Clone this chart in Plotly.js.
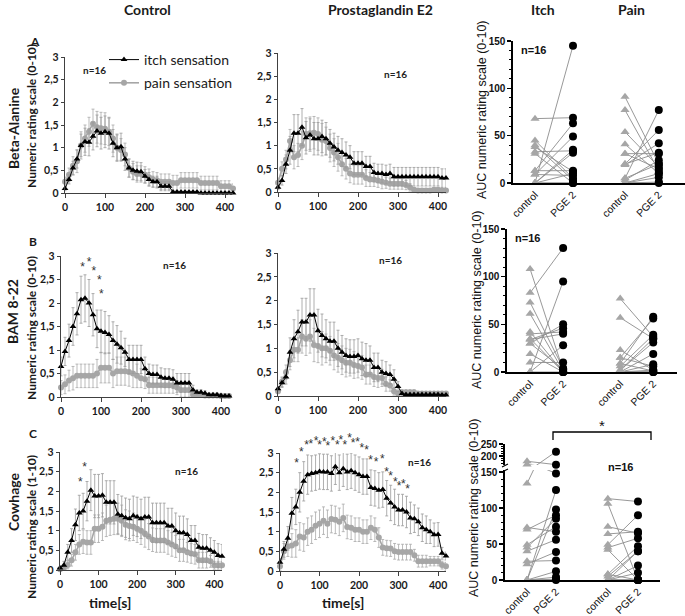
<!DOCTYPE html>
<html><head><meta charset="utf-8">
<script src="https://cdn.plot.ly/plotly-3.0.1.min.js"></script>
<style>body{margin:0;background:#fff}#chart{width:685px;height:616px}</style>
</head><body><div id="chart"></div>
<script>
// ---------------- DATA ----------------
const time = [0,10,20,30,40,50,60,70,80,90,100,110,120,130,140,150,160,170,180,190,200,210,220,230,240,250,260,270,280,290,300,310,320,330,340,350,360,370,380,390,400,410,420];
const timeTicks = [0,100,200,300,400];
const nrsTickVals = [0,0.5,1,1.5,2,2.5,3];
const nrsTickText = ['0','0,5','1','1,5','2','2,5','3'];

// Beta-Alanine, Control
const baCtrlItch = [0.1,0.3,0.55,0.75,1.05,1.13,1.12,1.25,1.37,1.32, 1.35,1.32,1.1,1.0,1.02,0.75,0.55,0.5,0.48,0.47, 0.37,0.3,0.25,0.25,0.15,0.15,0.15,0.02,0.02,0.02, 0.02,0.02,0.02,0.02,0,0,0,0,0,0, 0,0,0];
const baCtrlItchErr = [0.05,0.1,0.15,0.2,0.25,0.3,0.3,0.3,0.35,0.35, 0.35,0.35,0.3,0.3,0.3,0.25,0.2,0.2,0.2,0.2, 0.15,0.15,0.12,0.12,0.1,0.1,0.1,0,0,0, 0,0,0,0,0,0,0,0,0,0, 0,0,0];
const baCtrlPain = [0.25,0.4,0.6,0.7,1.05,1.2,1.35,1.53,1.45,1.43, 1.42,1.35,1.2,1.0,0.95,0.85,0.55,0.47,0.42,0.42, 0.4,0.35,0.3,0.28,0.25,0.25,0.25,0.22,0.22,0.28, 0.28,0.28,0.28,0.28,0.22,0.22,0.22,0.22,0.22,0.15, 0.15,0.15,0.1];
const baCtrlPainErr = [0.1,0.15,0.2,0.25,0.3,0.3,0.32,0.32,0.35,0.35, 0.35,0.3,0.3,0.28,0.25,0.25,0.2,0.18,0.18,0.18, 0.18,0.18,0.17,0.17,0.17,0.17,0.17,0.17,0.17,0.17, 0.17,0.17,0.17,0.17,0.15,0.15,0.15,0.15,0.15,0.12, 0.12,0.12,0.1];
// Beta-Alanine, PGE2
const baPgeItch = [0.1,0.25,0.6,0.9,1.27,1.27,1.4,1.17,1.23,1.15, 1.15,1.2,1.15,1.05,0.97,0.9,0.85,0.8,0.75,0.62, 0.62,0.62,0.55,0.55,0.42,0.4,0.4,0.38,0.4,0.33, 0.33,0.33,0.33,0.33,0.33,0.33,0.33,0.33,0.33,0.33, 0.33,0.3,0.3];
const baPgeItchErr = [0.05,0.1,0.2,0.3,0.4,0.4,0.4,0.35,0.35,0.35, 0.35,0.35,0.35,0.3,0.3,0.3,0.3,0.28,0.25,0.25, 0.25,0.25,0.22,0.22,0.2,0.2,0.2,0.2,0.2,0.2, 0.2,0.2,0.2,0.2,0.2,0.2,0.2,0.2,0.2,0.2, 0.2,0.2,0.2];
const baPgePain = [0.2,0.5,0.7,1.1,0.75,0.8,1.0,1.25,1.27,1.28, 1.25,1.13,1.1,0.95,0.85,0.75,0.6,0.5,0.4,0.37, 0.37,0.37,0.3,0.27,0.27,0.25,0.22,0.2,0.18,0.18, 0.18,0.18,0.15,0.1,0.05,0.03,0.03,0.03,0.03,0.05, 0.05,0.03,0.03];
const baPgePainErr = [0.1,0.15,0.2,0.25,0.25,0.25,0.3,0.35,0.35,0.35, 0.35,0.35,0.3,0.3,0.3,0.3,0.25,0.22,0.2,0.2, 0.2,0.2,0.18,0.15,0.15,0.15,0.15,0.12,0.12,0.12, 0.12,0.12,0.1,0.08,0.05,0.03,0.03,0.03,0.03,0.05, 0.05,0.03,0.03];

// BAM 8-22, Control
const bamCtrlItch = [0.65,0.97,1.2,1.5,1.77,2.07,2.1,2.0,1.75,1.45, 1.4,1.37,1.33,1.2,1.12,1.05,0.95,0.8,0.8,0.8, 0.8,0.6,0.5,0.48,0.48,0.42,0.4,0.4,0.38,0.3, 0.3,0.3,0.3,0.15,0.1,0.1,0.08,0.05,0.05,0.05, 0.03,0.02,0.02];
const bamCtrlItchErr = [0.2,0.3,0.35,0.4,0.45,0.5,0.5,0.5,0.45,0.4, 0.45,0.45,0.4,0.4,0.4,0.35,0.3,0.3,0.3,0.3, 0.3,0.25,0.2,0.2,0.2,0.2,0.2,0.2,0.2,0.2, 0.2,0.2,0.2,0.1,0.05,0.05,0.05,0.03,0.03,0.03, 0.02,0.02,0.02];
const bamCtrlPain = [0.2,0.27,0.35,0.4,0.45,0.45,0.45,0.45,0.45,0.5, 0.62,0.62,0.62,0.5,0.55,0.55,0.55,0.53,0.5,0.45, 0.4,0.38,0.25,0.25,0.25,0.25,0.25,0.25,0.25,0.2, 0.15,0.15,0.15,0.05,0.05,0.05,0.03,0.03,0.03,0.03, 0.02,0.02,0.02];
const bamCtrlPainErr = [0.15,0.2,0.22,0.25,0.25,0.25,0.25,0.25,0.25,0.3, 0.32,0.32,0.32,0.3,0.3,0.3,0.3,0.3,0.3,0.25, 0.2,0.2,0.17,0.17,0.17,0.17,0.17,0.17,0.17,0.15, 0.15,0.15,0.15,0.05,0.05,0.05,0.03,0.03,0.03,0.03, 0.02,0.02,0.02];
// BAM 8-22, PGE2
const bamPgeItch = [0.15,0.28,0.4,0.92,1.2,1.35,1.55,1.55,1.7,1.7, 1.37,1.27,1.2,1.15,1.15,1.0,0.92,0.85,0.83,0.83, 0.85,0.78,0.75,0.75,0.6,0.6,0.5,0.47,0.45,0.35, 0.2,0.05,0.03,0.03,0.03,0.03,0.03,0.03,0.03,0.03, 0.03,0.02,0.02];
const bamPgeItchErr = [0.05,0.1,0.15,0.3,0.4,0.45,0.5,0.5,0.55,0.55, 0.45,0.45,0.4,0.4,0.4,0.38,0.35,0.35,0.35,0.35, 0.35,0.35,0.35,0.3,0.3,0.3,0.25,0.25,0.2,0.2, 0.1,0.05,0.03,0.03,0.03,0.03,0.03,0.03,0.03,0.03, 0.03,0.03,0.03];
const bamPgePain = [0.1,0.3,0.5,0.75,0.97,0.97,1.25,1.2,1.25,1.07, 1.05,1.0,1.0,0.95,0.85,0.8,0.75,0.7,0.7,0.65, 0.63,0.6,0.45,0.45,0.4,0.38,0.38,0.25,0.22,0.1, 0.05,0.08,0.08,0.08,0.08,0.05,0.05,0.05,0.05,0.05, 0.05,0.05,0.05];
const bamPgePainErr = [0.05,0.1,0.15,0.2,0.25,0.25,0.35,0.35,0.35,0.35, 0.35,0.35,0.3,0.3,0.3,0.3,0.3,0.3,0.28,0.28, 0.25,0.25,0.2,0.2,0.2,0.2,0.18,0.15,0.12,0.08, 0.05,0.05,0.05,0.05,0.05,0.03,0.03,0.03,0.03,0.03, 0.03,0.03,0.03];

// Cowhage, Control
const cowCtrlItch = [0.05,0.12,0.45,0.75,1.15,1.45,1.5,1.75,2.03,1.88, 1.88,1.9,1.72,1.72,1.72,1.42,1.38,1.33,1.3,1.38, 1.35,1.3,1.35,1.35,1.2,1.2,1.2,1.2,1.12,1.12, 1.0,0.95,0.95,0.9,0.75,0.75,0.58,0.55,0.55,0.5, 0.45,0.37,0.35];
const cowCtrlItchErr = [0.05,0.1,0.2,0.3,0.4,0.45,0.45,0.5,0.52,0.55, 0.55,0.55,0.55,0.55,0.55,0.5,0.5,0.5,0.5,0.5, 0.5,0.5,0.5,0.5,0.5,0.5,0.5,0.5,0.45,0.45, 0.45,0.42,0.42,0.4,0.38,0.38,0.35,0.35,0.35,0.32, 0.3,0.3,0.3];
const cowCtrlPain = [0.02,0.05,0.13,0.25,0.45,0.65,0.72,0.7,0.7,1.05, 1.05,1.1,1.25,1.28,1.3,1.3,1.25,1.15,1.12,1.1, 1.05,1.0,0.93,0.85,0.77,0.75,0.75,0.75,0.7,0.65, 0.6,0.5,0.5,0.45,0.42,0.4,0.25,0.25,0.25,0.22, 0.12,0.12,0.12];
const cowCtrlPainErr = [0.03,0.05,0.1,0.15,0.2,0.25,0.3,0.3,0.3,0.35, 0.35,0.35,0.4,0.4,0.4,0.4,0.4,0.38,0.38,0.35, 0.35,0.35,0.35,0.33,0.3,0.3,0.3,0.3,0.3,0.3, 0.28,0.28,0.28,0.25,0.25,0.25,0.2,0.2,0.2,0.15, 0.1,0.1,0.1];
// Cowhage, PGE2
const cowPgeItch = [0.22,0.55,0.83,1.47,1.63,2.0,2.28,2.45,2.48,2.5, 2.53,2.52,2.52,2.48,2.65,2.5,2.6,2.52,2.55,2.5, 2.45,2.4,2.4,2.12,2.1,2.05,2.07,1.85,1.73,1.63, 1.55,1.55,1.5,1.35,1.33,1.25,1.1,1.05,1.0,0.92, 0.93,0.45,0.38];
const cowPgeItchErr = [0.1,0.2,0.3,0.4,0.45,0.5,0.5,0.5,0.45,0.45, 0.45,0.45,0.45,0.45,0.45,0.45,0.45,0.45,0.45,0.45, 0.45,0.45,0.45,0.45,0.45,0.45,0.45,0.45,0.45,0.45, 0.4,0.4,0.4,0.4,0.35,0.35,0.35,0.35,0.3,0.3, 0.3,0.15,0.1];
const cowPgePain = [0.12,0.5,0.62,0.65,0.7,0.88,0.85,1.0,1.05,1.15, 1.2,1.28,1.2,1.32,1.3,1.25,1.35,1.12,1.1,1.05, 1.05,1.0,1.0,1.1,1.05,0.85,0.6,0.58,0.57,0.5, 0.48,0.48,0.48,0.48,0.4,0.25,0.25,0.25,0.25,0.25, 0.25,0.15,0.12];
const cowPgePainErr = [0.1,0.2,0.25,0.3,0.35,0.35,0.35,0.35,0.35,0.35, 0.35,0.35,0.35,0.35,0.35,0.35,0.35,0.3,0.3,0.3, 0.3,0.3,0.3,0.3,0.3,0.25,0.2,0.2,0.2,0.2, 0.2,0.2,0.2,0.2,0.15,0.15,0.15,0.15,0.12,0.12, 0.12,0.1,0.1];

// significance asterisks (time, rating)
const bamStarT = [54,70,82,96,101];
const bamStarY = [2.74,2.86,2.67,2.47,2.17];
const cowCtrlStarT = [53,64];
const cowCtrlStarY = [2.2,2.6];
const cowPgeStarT = [42,54,67,78,91,100,112,121,134,145,154,164,176,185,196,207,219,229,243,259,270,280,292,301,312,323];
const cowPgeStarY = [2.72,3.0,3.17,3.2,3.27,3.19,3.26,3.15,3.27,3.17,3.3,3.17,3.36,3.23,3.26,3.09,3.04,2.79,2.75,2.83,2.5,2.38,2.25,2.13,2.19,2.06];

// AUC per subject (n=16): control vs PGE 2
const groupLabels = ['control','PGE 2','control','PGE 2'];
const baAucItchCtrl = [0,68,45,38,33,31,13,9,0,13,9,0,0,0,0,40];
const baAucItchPge  = [145,69,5,12,34,0,63,49,35,13,8,32,10,0,0,3];
const baAucPainCtrl = [91,77,54,41,31,20,19,5,3,0,0,31,20,0,0,5];
const baAucPainPge  = [20,13,17,10,31,56,42,77,24,6,0,15,32,10,1,20];

const bamAucItchCtrl = [108,83,73,61,42,40,34,34,30,19,10,0,0,35,0,30];
const bamAucItchPge  = [2,130,4,1,0,42,46,40,50,0,10,95,28,0,0,3];
const bamAucPainCtrl = [77,57,23,15,9,6,2,0,15,0,2,0,0,9,0,0];
const bamAucPainPge  = [37,35,2,56,58,39,31,19,6,0,35,8,0,1,2,0];

const cowAucItchCtrl = [178,165,134,73,70,49,45,40,26,22,0,0,0,0,0,0];
const cowAucItchPge  = [164,148,218,67,90,74,85,56,27,39,125,98,12,4,1,0];
const cowAucPainCtrl = [113,106,74,64,49,45,42,8,5,0,0,0,0,8,0,0];
const cowAucPainPge  = [109,0,65,67,90,58,0,47,40,20,10,0,0,0,40,0];

// ---------------- STYLE / LAYOUT ----------------
const W = 685, H = 616;
const px = v => v / W;
const py = v => 1 - v / H;
const FX = 'Lato, "Open Sans", sans-serif';
const FA = '"Liberation Sans", Arial, sans-serif';
const GRAY = '#a6a6a6';

function tsTraces(xa, ya, itch, itchErr, pain, painErr, legend) {
  return [
    {type:'scatter', x:time, y:pain, xaxis:xa, yaxis:ya, mode:'lines+markers', name:'pain sensation',
     legendgroup:'pain', legendrank:2, showlegend:legend, cliponaxis:false,
     line:{color:GRAY, width:1.6}, marker:{symbol:'circle', size:6, color:GRAY},
     error_y:{type:'data', array:painErr, color:'#aaaaaa', thickness:0.8, width:1.5}},
    {type:'scatter', x:time, y:itch, xaxis:xa, yaxis:ya, mode:'lines+markers', name:'itch sensation',
     legendgroup:'itch', legendrank:1, showlegend:legend, cliponaxis:false,
     line:{color:'#000', width:1}, marker:{symbol:'triangle-up', size:6, color:'#000'},
     error_y:{type:'data', array:itchErr, color:'#9a9a9a', thickness:0.8, width:1.5}}
  ];
}
function starTrace(xa, ya, t, y) {
  return {type:'scatter', x:t, y:y, xaxis:xa, yaxis:ya, mode:'text', text:t.map(() => '*'),
    textposition:'middle center', cliponaxis:false, showlegend:false, hoverinfo:'skip',
    textfont:{family:FA, size:12, color:'#333'}};
}

function pairTraces(xa, ya, pos, cI, pI, cP, pP) {
  const lx = [], ly = [];
  cI.forEach((v,i) => { lx.push(pos[0], pos[1], null); ly.push(v, pI[i], null); });
  cP.forEach((v,i) => { lx.push(pos[2], pos[3], null); ly.push(v, pP[i], null); });
  const cx = cI.map(() => pos[0]).concat(cP.map(() => pos[2]));
  const px2 = pI.map(() => pos[1]).concat(pP.map(() => pos[3]));
  return [
    {type:'scatter', x:lx, y:ly, xaxis:xa, yaxis:ya, mode:'lines', showlegend:false, hoverinfo:'skip',
     line:{color:'#8c8c8c', width:0.9}},
    {type:'scatter', x:cx, y:cI.concat(cP), xaxis:xa, yaxis:ya, mode:'markers', showlegend:false, cliponaxis:false,
     marker:{symbol:'triangle-up', size:8, color:GRAY}},
    {type:'scatter', x:px2, y:pI.concat(pP), xaxis:xa, yaxis:ya, mode:'markers', showlegend:false, cliponaxis:false,
     marker:{symbol:'circle', size:8, color:'#000'}}
  ];
}

// category positions for the AUC panels (per row)
const aucPos1 = [1, 2, 3.37, 4.26];
const aucPos2 = [1, 2, 3.73, 4.73];
const aucPos3 = [1, 2, 3.79, 4.83];

const traces = [].concat(
  tsTraces('x','y', baCtrlItch, baCtrlItchErr, baCtrlPain, baCtrlPainErr, true),
  tsTraces('x2','y2', baPgeItch, baPgeItchErr, baPgePain, baPgePainErr, false),
  pairTraces('x3','y3', aucPos1, baAucItchCtrl, baAucItchPge, baAucPainCtrl, baAucPainPge),
  tsTraces('x4','y4', bamCtrlItch, bamCtrlItchErr, bamCtrlPain, bamCtrlPainErr, false),
  tsTraces('x5','y5', bamPgeItch, bamPgeItchErr, bamPgePain, bamPgePainErr, false),
  pairTraces('x6','y6', aucPos2, bamAucItchCtrl, bamAucItchPge, bamAucPainCtrl, bamAucPainPge),
  tsTraces('x7','y7', cowCtrlItch, cowCtrlItchErr, cowCtrlPain, cowCtrlPainErr, false),
  tsTraces('x8','y8', cowPgeItch, cowPgeItchErr, cowPgePain, cowPgePainErr, false),
  pairTraces('x9','y9', aucPos3, cowAucItchCtrl, cowAucItchPge, cowAucPainCtrl, cowAucPainPge),
  pairTraces('x9','y10', aucPos3, cowAucItchCtrl, cowAucItchPge, [], []),
  [starTrace('x4','y4', bamStarT, bamStarY),
   starTrace('x7','y7', cowCtrlStarT, cowCtrlStarY),
   starTrace('x8','y11', cowPgeStarT, cowPgeStarY)]
);

const tickFontX = {family:FX, size:10.5, color:'#1a1a1a', weight:'bold'};
function tsX(a, b, anchor) {
  return {domain:[px(a), px(b)], range:[0,420], anchor:anchor, tickvals:timeTicks, ticktext:timeTicks.map(String),
    ticks:'outside', ticklen:4, tickcolor:'#404040', showline:true, linecolor:'#404040', linewidth:1.2,
    showgrid:false, zeroline:false, tickfont:tickFontX, fixedrange:true};
}
function tsY(top, bot, anchor) {
  return {domain:[py(bot), py(top)], range:[0,3], anchor:anchor, tickvals:nrsTickVals, ticktext:nrsTickText,
    ticks:'outside', ticklen:3, tickcolor:'#404040', showline:true, linecolor:'#404040', linewidth:1.2,
    showgrid:false, zeroline:false, tickfont:tickFontX, fixedrange:true};
}
function aucX(a, b, pos, anchor) {
  return {domain:[px(a), px(b)], anchor:anchor, tickvals:pos, ticktext:groupLabels, tickangle:-45,
    ticks:'', showline:true, linecolor:'#000', linewidth:1.6, showgrid:false, zeroline:false,
    tickfont:{family:FA, size:10.5, color:'#111'}, fixedrange:true};
}
function aucY(top, bot, range, vals, anchor) {
  return {domain:[py(bot), py(top)], range:range, anchor:anchor, tickvals:vals, ticktext:vals.map(String),
    ticks:'outside', ticklen:4, tickwidth:1.4, tickcolor:'#000', showline:true, linecolor:'#000', linewidth:1.6,
    minor:{dtick:10, ticks:'outside', ticklen:2, tickcolor:'#000', tickwidth:1},
    showgrid:false, zeroline:false, tickfont:{family:FA, size:10, color:'#111', weight:'bold'}, fixedrange:true};
}

const xa1 = tsX(65, 233, 'y');   const ya1 = tsY(57, 193, 'x');
const xa2 = tsX(278, 446, 'y2'); const ya2 = tsY(53, 192, 'x2');
const xa3 = aucX(513, 685, aucPos1, 'y3'); xa3.range = [0.42, 4.95];
const ya3 = aucY(41, 183, [0,150], [0,50,100,150], 'x3');
const xa4 = tsX(61, 229, 'y4');  const ya4 = tsY(256, 397, 'x4');
const xa5 = tsX(278, 446, 'y5'); const ya5 = tsY(253, 396, 'x5');
const xa6 = aucX(507, 677, aucPos2, 'y6'); xa6.range = [0.30, 5.45];
const ya6 = aucY(229, 372, [0,150], [0,50,100,150], 'x6');
const xa7 = tsX(60, 222, 'y7');  const ya7 = tsY(452, 570, 'x7');
const xa8 = tsX(280, 446, 'y8'); const ya8 = tsY(453, 571, 'x8');
const xa9 = aucX(505, 660, aucPos3, 'y9'); xa9.range = [0.24, 5.59];
const ya9 = aucY(470, 580, [0,150*110/108], [0,50,100,150], 'x9');
const ya10 = aucY(444, 465, [162.5,250], [200,250], 'x9');
// invisible overlay scale for the asterisks above the Cowhage/PGE2 panel (same units as y8, taller domain)
const ya11 = {domain:[py(571), py(420)], range:[0, 3*(571-420)/(571-453)], anchor:'x8', visible:false, fixedrange:true};

function ann(text, x, y, o) {
  return Object.assign({text:text, x:px(x), y:py(y), xref:'paper', yref:'paper', showarrow:false,
    xanchor:'center', yanchor:'middle', font:{family:FX, size:12, color:'#1a1a1a'}}, o || {});
}
const bold = (s) => ({family:FX, size:s, color:'#1a1a1a', weight:'bold'});
const annotations = [
  ann('Control', 147, 9, {font:bold(14)}),
  ann('Prostaglandin E2', 380, 9, {font:bold(14)}),
  ann('Itch', 543, 9, {font:bold(14)}),
  ann('Pain', 631, 9, {font:bold(14)}),
  ann('A', 35, 42, {font:bold(12)}),
  ann('B', 33, 242, {font:bold(12)}),
  ann('C', 33, 433, {font:bold(12)}),
  ann('Beta-Alanine', 13, 128, {textangle:-90, font:bold(14)}),
  ann('BAM 8-22', 13, 312, {textangle:-90, font:bold(14)}),
  ann('Cowhage', 13, 502, {textangle:-90, font:bold(14)}),
  ann('Numeric rating scale (0-10)', 31, 116, {textangle:-90, font:bold(12)}),
  ann('Numeric rating scale (0-10)', 31, 328, {textangle:-90, font:bold(12)}),
  ann('Numeric rating scale (1-10)', 31, 527, {textangle:-90, font:bold(12)}),
  ann('time[s]', 110, 602, {font:bold(14)}),
  ann('time[s]', 343, 602, {font:bold(14)}),
  ann('AUC numeric rating scale (0-10)', 482, 110, {textangle:-90, font:{family:FA, size:12.5, color:'#111'}}),
  ann('AUC numeric rating scale (0-10)', 477, 300, {textangle:-90, font:{family:FA, size:12.5, color:'#111'}}),
  ann('AUC numeric rating scale (0-10)', 474, 508, {textangle:-90, font:{family:FA, size:12.5, color:'#111'}}),
  ann('n=16', 533, 50, {font:{family:FA, size:11, color:'#111', weight:'bold'}}),
  ann('n=16', 527, 238, {font:{family:FA, size:11, color:'#111', weight:'bold'}}),
  ann('n=16', 620, 467, {font:{family:FA, size:11, color:'#111', weight:'bold'}}),
  ann('*', 602, 425, {font:{family:FA, size:15, color:'#111'}})
];
function dataAnn(text, xr, yr, x, y, size) {
  return {text:text, xref:xr, yref:yr, x:x, y:y, showarrow:false, xanchor:'center', yanchor:'middle',
    font:{family:FX, size:size, color:'#222', weight:'bold'}};
}
annotations.push(dataAnn('n=16','x','y',73,2.72,10), dataAnn('n=16','x2','y2',293,2.54,10),
  dataAnn('n=16','x4','y4',283,2.8,10), dataAnn('n=16','x5','y5',281,2.85,10),
  dataAnn('n=16','x7','y7',327,2.52,10), dataAnn('n=16','x8','y8',352,2.77,10));

function paperPath(pts) {
  return 'M ' + pts.map(p => `${px(p[0])},${py(p[1])}`).join(' L ');
}
const shapes = [
  {type:'path', xref:'paper', yref:'paper', line:{color:'#000', width:1.3}, path:paperPath([[553,440],[553,432],[651,432],[651,440]])},
  {type:'path', xref:'paper', yref:'paper', line:{color:'#000', width:1.2}, path:paperPath([[502,467],[508,464]])},
  {type:'path', xref:'paper', yref:'paper', line:{color:'#000', width:1.2}, path:paperPath([[502,472],[508,469]])}
];

const layout = {
  width:W, height:H, autosize:false, margin:{l:0, r:0, t:0, b:0},
  paper_bgcolor:'#fff', plot_bgcolor:'rgba(0,0,0,0)', hovermode:false,
  font:{family:FX, color:'#1a1a1a'},
  showlegend:true,
  legend:{x:px(104), y:py(44), xanchor:'left', yanchor:'top', bgcolor:'rgba(0,0,0,0)', borderwidth:0,
    font:{family:FX, size:14, color:'#1a1a1a'}, itemwidth:30, tracegroupgap:2, traceorder:'grouped'},
  xaxis:xa1, yaxis:ya1, xaxis2:xa2, yaxis2:ya2, xaxis3:xa3, yaxis3:ya3,
  xaxis4:xa4, yaxis4:ya4, xaxis5:xa5, yaxis5:ya5, xaxis6:xa6, yaxis6:ya6,
  xaxis7:xa7, yaxis7:ya7, xaxis8:xa8, yaxis8:ya8, xaxis9:xa9, yaxis9:ya9, yaxis10:ya10, yaxis11:ya11,
  annotations:annotations, shapes:shapes
};

Plotly.newPlot('chart', traces, layout, {staticPlot:true, displayModeBar:false});
</script>
</body></html>
